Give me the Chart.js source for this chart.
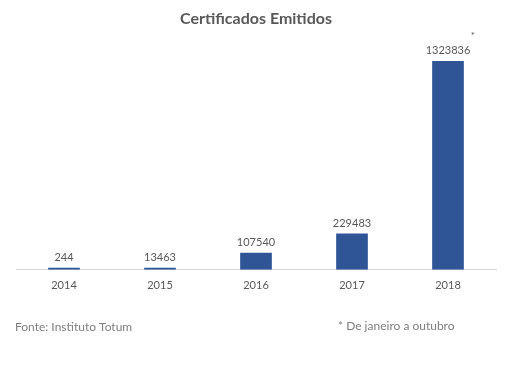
<!DOCTYPE html>
<html>
<head>
<meta charset="utf-8">
<script src="https://cdn.jsdelivr.net/npm/chart.js@4/dist/chart.umd.min.js"></script>
<style>
  html, body { margin: 0; padding: 0; background: #fff; }
  #wrap { position: relative; width: 505px; height: 369px; }
</style>
</head>
<body>
<div id="wrap"><canvas id="certChart" width="505" height="369"></canvas></div>
<script>
const anos = ["2014", "2015", "2016", "2017", "2018"];
const certificados = [244, 13463, 107540, 229483, 1323836];
const fonte = "Fonte: Instituto Totum";
const nota = "* De janeiro a outubro";

const fontFamily = "Lato, 'Open Sans', sans-serif";

// Valeurs au-dessus des barres + notes de bas de page
const labelsPlugin = {
  id: "labelsPlugin",
  afterDatasetsDraw(chart) {
    const ctx = chart.ctx;
    const meta = chart.getDatasetMeta(0);
    ctx.save();
    ctx.font = "11px " + fontFamily;
    ctx.fillStyle = "#595959";
    ctx.textAlign = "center";
    ctx.textBaseline = "bottom";
    meta.data.forEach((bar, i) => {
      ctx.fillText(certificados[i], bar.x, bar.y - 5);
      if (i === certificados.length - 1) {
        ctx.font = "10px " + fontFamily;
        ctx.fillText("*", bar.x + 25, bar.y - 20);
        ctx.font = "11px " + fontFamily;
      }
    });
    ctx.font = "12px " + fontFamily;
    ctx.fillStyle = "#7f7f7f";
    ctx.textBaseline = "middle";
    ctx.textAlign = "left";
    ctx.fillText(fonte, 15, 327);
    ctx.fillText(nota, 338, 326);
    ctx.restore();
  }
};

new Chart(document.getElementById("certChart").getContext("2d"), {
  type: "bar",
  data: {
    labels: anos,
    datasets: [{
      data: certificados,
      backgroundColor: "#2f5597",
      barPercentage: 0.33,
      categoryPercentage: 1,
      minBarLength: 2
    }]
  },
  options: {
    responsive: false,
    animation: false,
    layout: { padding: { left: 16, right: 9, bottom: 76 } },
    plugins: {
      legend: { display: false },
      tooltip: { enabled: false },
      title: {
        display: true,
        text: "Certificados Emitidos",
        color: "#595959",
        font: { family: fontFamily, size: 16, weight: "bold" },
        padding: { top: 9, bottom: 32.8 }
      }
    },
    scales: {
      x: {
        grid: { display: false },
        border: { display: true, color: "#d9d9d9", width: 1 },
        ticks: { color: "#595959", font: { family: fontFamily, size: 11 }, padding: 1 }
      },
      y: {
        display: false,
        min: 0,
        max: 1323836
      }
    }
  },
  plugins: [labelsPlugin]
});
</script>
</body>
</html>
